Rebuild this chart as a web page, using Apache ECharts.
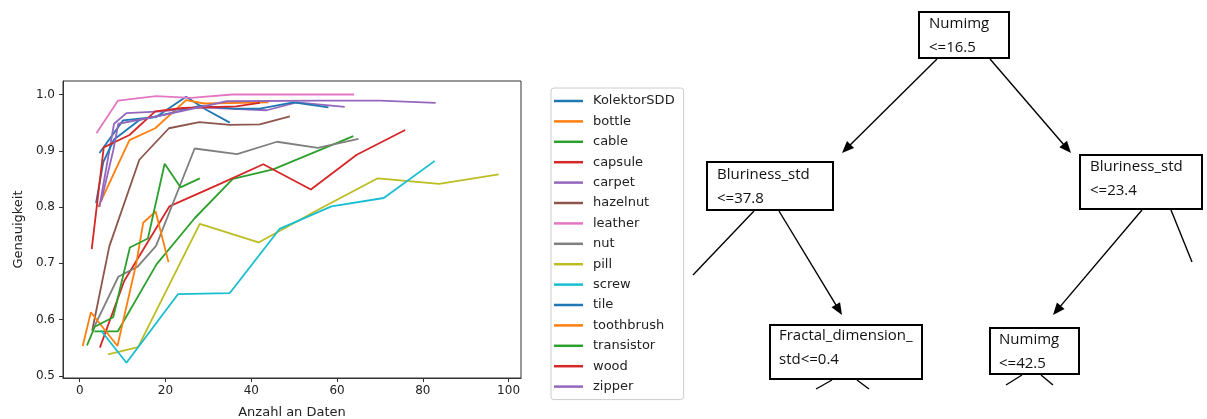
<!DOCTYPE html>
<html>
<head>
<meta charset="utf-8">
<script src="https://cdn.jsdelivr.net/npm/echarts@6/dist/echarts.min.js"></script>
<style>
html, body { margin: 0; padding: 0; background: #fff; }
#main { width: 1207px; height: 419px; }
</style>
</head>
<body>
<div id="main"></div>
<script>
// Genauigkeit je Datensatz ueber Anzahl an Daten
var names = ['KolektorSDD', 'bottle', 'cable', 'capsule', 'carpet', 'hazelnut', 'leather', 'nut',
             'pill', 'screw', 'tile', 'toothbrush', 'transistor', 'wood', 'zipper'];
var kolektorSDD = [[4.6, 0.896], [10.1, 0.954], [17.8, 0.96], [24.8, 0.996], [29.5, 0.973], [35, 0.95]];
var bottle = [[4.3, 0.80], [11.6, 0.919], [17.6, 0.94], [24.8, 0.99], [29, 0.984], [44, 0.986]];
var cable = [[3.4, 0.579], [8.9, 0.579], [17.9, 0.698], [26.8, 0.78], [35.7, 0.85], [45.1, 0.867], [63.8, 0.926]];
var capsule = [[4.7, 0.55], [10.4, 0.669], [20.9, 0.801], [31.8, 0.838], [42.8, 0.876], [53.9, 0.831], [64.6, 0.893], [75.9, 0.937]];
var carpet = [[4.6, 0.80], [8, 0.948], [10.9, 0.967], [19, 0.97], [28, 0.977], [43.6, 0.972], [50.6, 0.986], [61.8, 0.978]];
var hazelnut = [[2.9, 0.58], [6.9, 0.73], [13.9, 0.884], [20.8, 0.94], [27.9, 0.951], [35, 0.946], [42, 0.947], [49, 0.961]];
var leather = [[3.9, 0.931], [8.9, 0.989], [17.8, 0.997], [26, 0.994], [35.5, 1.0], [44, 1.0], [54, 1.0], [64, 1.0]];
var nut = [[3, 0.581], [9, 0.676], [13.5, 0.694], [17.8, 0.731], [26.8, 0.904], [36.7, 0.894], [46, 0.916], [55.5, 0.905], [65, 0.921]];
var pill = [[6.6, 0.538], [13.6, 0.551], [28, 0.77], [41.7, 0.737], [55.6, 0.795], [69.5, 0.851], [83.8, 0.841], [97.7, 0.858]];
var screw = [[5, 0.58], [10.9, 0.523], [22.9, 0.645], [35, 0.647], [46.6, 0.761], [58.7, 0.801], [70.9, 0.816], [82.8, 0.882]];
var tile = [[3.8, 0.807], [5.5, 0.88], [8, 0.92], [14, 0.955], [22, 0.968], [28, 0.98], [36, 0.975], [42, 0.975], [49.8, 0.986], [58, 0.977]];
var toothbrush = [[0.7, 0.553], [2.6, 0.613], [8.8, 0.553], [13.2, 0.70], [14.8, 0.772], [17.7, 0.792], [20.7, 0.702]];
var transistor = [[1.7, 0.554], [3.5, 0.587], [7.8, 0.604], [11.7, 0.728], [15.9, 0.744], [19.8, 0.877], [23.5, 0.835], [28, 0.851]];
var wood = [[2.8, 0.725], [5.6, 0.906], [11.6, 0.928], [17.6, 0.97], [24, 0.976], [36.5, 0.979], [42, 0.985]];
var zipper = [[5, 0.81], [7.8, 0.90], [9, 0.948], [18.6, 0.962], [34.3, 0.988], [56, 0.989], [70, 0.989], [83, 0.985]];
var xTicks = [0, 20, 40, 60, 80, 100];
var yTicks = [0.5, 0.6, 0.7, 0.8, 0.9, 1.0];

// Entscheidungsbaum (Ausschnitt)
var treeLabels = ['Numimg\n<=16.5', 'Bluriness_std\n<=37.8', 'Bluriness_std\n<=23.4',
                  'Fractal_dimension_\nstd<=0.4', 'Numimg\n<=42.5'];

var allData = [kolektorSDD, bottle, cable, capsule, carpet, hazelnut, leather, nut,
               pill, screw, tile, toothbrush, transistor, wood, zipper];
var palette = ['#1f77b4', '#ff7f0e', '#2ca02c', '#d62728', '#9467bd', '#8c564b', '#e377c2',
               '#7f7f7f', '#bcbd22', '#17becf'];

// Layout des Baums (Pixel)
var boxes = [[919, 12, 90, 46], [707, 162, 126, 48], [1080, 155, 122, 54], [770, 325, 152, 54], [990, 328, 89, 46]];
var textPos = [[929, 12], [717, 163], [1090, 155], [779, 324], [999, 328]];
var links = [
    [937, 59, 842, 153, true], [990, 59, 1071, 153, true],
    [779, 211, 842, 315, true], [754, 211, 693, 275, false],
    [1142, 210, 1053, 315, true], [1171, 210, 1192, 262, false],
    [832, 380, 816, 389, false], [857, 380, 869, 389, false],
    [1022, 375, 1006, 385, false], [1041, 375, 1053, 385, false]
];

var graphics = [];
links.forEach(function (l) {
    var x1 = l[0], y1 = l[1], x2 = l[2], y2 = l[3];
    var dx = x2 - x1, dy = y2 - y1, len = Math.sqrt(dx * dx + dy * dy);
    var ux = dx / len, uy = dy / len;
    var ex = x2, ey = y2;
    if (l[4]) { ex = x2 - ux * 10; ey = y2 - uy * 10; }
    graphics.push({
        type: 'line', shape: { x1: x1, y1: y1, x2: ex, y2: ey },
        style: { stroke: '#000', lineWidth: 1.4 }, z: 10
    });
    if (l[4]) {
        var bx = x2 - ux * 12, by = y2 - uy * 12;
        graphics.push({
            type: 'polygon',
            shape: { points: [[x2, y2], [bx - uy * 5, by + ux * 5], [bx + uy * 5, by - ux * 5]] },
            style: { fill: '#000' }, z: 10
        });
    }
});
boxes.forEach(function (b, i) {
    graphics.push({
        type: 'rect', shape: { x: b[0], y: b[1], width: b[2], height: b[3] },
        style: { fill: '#fff', stroke: '#000', lineWidth: 2 }, z: 11
    });
    graphics.push({
        type: 'text', x: textPos[i][0], y: textPos[i][1], z: 12,
        style: {
            text: treeLabels[i], fill: '#111', font: '15px "Open Sans"',
            lineHeight: 24, verticalAlign: 'top', align: 'left'
        }
    });
});

var chart = echarts.init(document.getElementById('main'));
var option = {
    animation: false,
    backgroundColor: '#fff',
    textStyle: { fontFamily: 'DejaVu Sans' },
    grid: {
        left: 63, top: 81, width: 458, height: 297,
        outerBoundsMode: 'none', containLabel: false,
        show: true, borderColor: '#333', borderWidth: 1
    },
    legend: {
        orient: 'vertical', left: 551, top: 88,
        data: names, icon: 'rect', itemWidth: 29, itemHeight: 2.5, itemGap: 6.4,
        selectedMode: false,
        padding: [6, 9, 6, 3],
        borderColor: '#ccc', borderWidth: 1, borderRadius: 3,
        textStyle: { fontSize: 13, color: '#222', lineHeight: 14, padding: [0, 0, 0, 5], fontFamily: 'DejaVu Sans' }
    },
    xAxis: {
        type: 'value', min: -3.9, max: 102.9,
        name: 'Anzahl an Daten', nameLocation: 'middle', nameGap: 28,
        nameTextStyle: { fontSize: 13, color: '#222' },
        axisLine: { show: true, onZero: false, lineStyle: { color: '#333' } },
        axisTick: { show: true, length: 4, customValues: xTicks, lineStyle: { color: '#333' } },
        axisLabel: { customValues: xTicks, fontSize: 12, color: '#222', margin: 7 },
        splitLine: { show: false }
    },
    yAxis: {
        type: 'value', min: 0.496, max: 1.024,
        name: 'Genauigkeit', nameLocation: 'middle', nameGap: 38,
        nameTextStyle: { fontSize: 13, color: '#222' },
        axisLine: { show: true, onZero: false, lineStyle: { color: '#333' } },
        axisTick: { show: true, length: 4, customValues: yTicks, lineStyle: { color: '#333' } },
        axisLabel: {
            customValues: yTicks, fontSize: 12, color: '#222', margin: 8,
            formatter: function (v) { return v.toFixed(1); }
        },
        splitLine: { show: false }
    },
    series: names.map(function (n, i) {
        var c = palette[i % 10];
        return {
            type: 'line', name: n, data: allData[i],
            showSymbol: false, symbol: 'none',
            lineStyle: { width: 1.8, color: c }, itemStyle: { color: c },
            z: 2 + i * 0.01
        };
    }),
    graphic: graphics
};
chart.setOption(option);
</script>
</body>
</html>
